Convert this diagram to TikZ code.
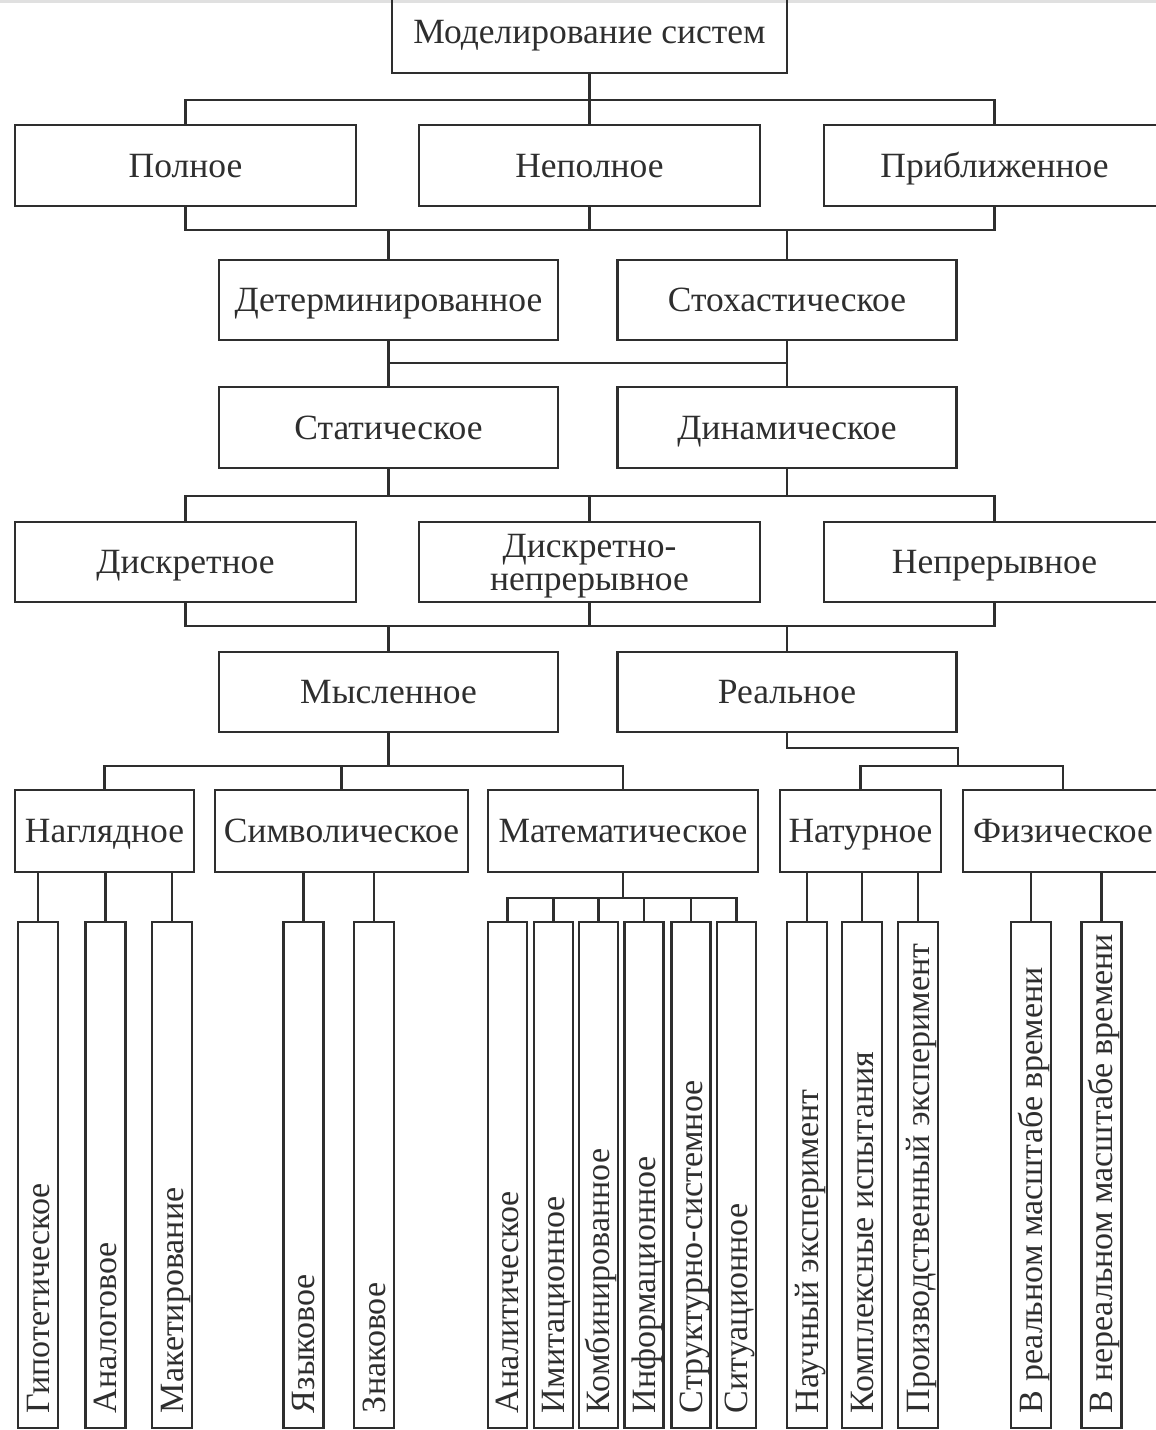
\documentclass[tikz,border=0pt]{standalone}
\usepackage{fontspec}
\setmainfont{Liberation Serif}
\usetikzlibrary{calc}
\definecolor{ink}{HTML}{2E2E2E}
\begin{document}
\begin{tikzpicture}[x=1pt,y=-1pt,
  line width=2.3pt, draw=ink,
  box/.style={draw=ink, rectangle, inner sep=0pt, text=ink,
    font=\fontsize{35.5}{33}\selectfont, text height=23.5pt, text depth=0pt, align=center},
  kid/.style={draw=ink, rectangle, inner sep=0pt, minimum height=506pt, minimum width=40pt},
  vlab/.style={rotate=90, anchor=west, inner sep=0pt, text=ink,
    font=\fontsize{34}{33}\selectfont, text height=22.5pt, text depth=0pt}]
\useasboundingbox (0,0) rectangle (1156,1430);
\clip (0,0) rectangle (1156,1430);
\fill[black!12] (0,0) rectangle (1156,3);

% level 0
\node[box, minimum width=395pt, minimum height=83pt] (T) at (589.5,31.5) {Моделирование систем};
% level 1
\node[box, minimum width=341pt, minimum height=81pt] (r2a) at (185.5,165.5) {Полное};
\node[box, minimum width=341pt, minimum height=81pt] (r2b) at (589.5,165.5) {Неполное};
\node[box, minimum width=341pt, minimum height=81pt] (r2c) at (994.5,165.5) {Приближенное};
% level 2
\node[box, minimum width=339pt, minimum height=80pt] (r3a) at (388.5,300) {Детерминированное};
\node[box, minimum width=339pt, minimum height=80pt] (r3b) at (787,300) {Стохастическое};
% level 3
\node[box, minimum width=339pt, minimum height=81pt] (r4a) at (388.5,427.5) {Статическое};
\node[box, minimum width=339pt, minimum height=81pt] (r4b) at (787,427.5) {Динамическое};
% level 4
\node[box, minimum width=341pt, minimum height=80pt] (r5a) at (185.5,562) {Дискретное};
\node[box, minimum width=341pt, minimum height=80pt, text height=56pt] (r5b) at (589.5,562) {Дискретно-\\непрерывное};
\node[box, minimum width=341pt, minimum height=80pt] (r5c) at (994.5,562) {Непрерывное};
% level 5
\node[box, minimum width=339pt, minimum height=80pt] (r6a) at (388.5,692) {Мысленное};
\node[box, minimum width=339pt, minimum height=80pt] (r6b) at (787,692) {Реальное};
% level 6
\node[box, minimum width=179pt, minimum height=82pt] (r7a) at (104.5,831) {Наглядное};
\node[box, minimum width=253pt, minimum height=82pt] (r7b) at (341.5,831) {Символическое};
\node[box, minimum width=270pt, minimum height=82pt] (r7c) at (623,831) {Математическое};
\node[box, minimum width=161pt, minimum height=82pt] (r7d) at (860.5,831) {Натурное};
\node[box, minimum width=200pt, minimum height=82pt] (r7e) at (1063,831) {Физическое};

% leaves
\node[kid] (ka1) at (38,1175) {};
\node[kid] (ka2) at (105.5,1175) {};
\node[kid] (ka3) at (172,1175) {};
\node[kid] (kb1) at (303.5,1175) {};
\node[kid] (kb2) at (374,1175) {};
\node[kid, minimum width=39pt] (kc1) at (507.5,1175) {};
\node[kid, minimum width=39pt] (kc2) at (553.5,1175) {};
\node[kid, minimum width=39pt] (kc3) at (598.5,1175) {};
\node[kid, minimum width=39pt] (kc4) at (644,1175) {};
\node[kid, minimum width=39pt] (kc5) at (691,1175) {};
\node[kid, minimum width=39pt] (kc6) at (736.5,1175) {};
\node[kid] (kd1) at (807,1175) {};
\node[kid] (kd2) at (862,1175) {};
\node[kid] (kd3) at (918,1175) {};
\node[kid] (ke1) at (1031,1175) {};
\node[kid] (ke2) at (1101.5,1175) {};

\node[vlab] (ta1) at ($(ka1.south)+(0,-15)$) {Гипотетическое};
\node[vlab] (ta2) at ($(ka2.south)+(0,-15)$) {Аналоговое};
\node[vlab] (ta3) at ($(ka3.south)+(0,-15)$) {Макетирование};
\node[vlab] (tb1) at ($(kb1.south)+(0,-15)$) {Языковое};
\node[vlab] (tb2) at ($(kb2.south)+(0,-15)$) {Знаковое};
\node[vlab] (tc1) at ($(kc1.south)+(0,-15)$) {Аналитическое};
\node[vlab] (tc2) at ($(kc2.south)+(0,-15)$) {Имитационное};
\node[vlab] (tc3) at ($(kc3.south)+(0,-15)$) {Комбинированное};
\node[vlab] (tc4) at ($(kc4.south)+(0,-15)$) {Информационное};
\node[vlab] (tc5) at ($(kc5.south)+(0,-15)$) {Структурно-системное};
\node[vlab] (tc6) at ($(kc6.south)+(0,-15)$) {Ситуационное};
\node[vlab] (td1) at ($(kd1.south)+(0,-15)$) {Научный эксперимент};
\node[vlab] (td2) at ($(kd2.south)+(0,-15)$) {Комплексные испытания};
\node[vlab] (td3) at ($(kd3.south)+(0,-15)$) {Производственный эксперимент};
\node[vlab] (te1) at ($(ke1.south)+(0,-15)$) {В реальном масштабе времени};
\node[vlab] (te2) at ($(ke2.south)+(0,-15)$) {В нереальном масштабе времени};

% bus coordinates
\coordinate (b1) at (0,100);
\coordinate (b2) at (0,230);
\coordinate (b3) at (0,363);
\coordinate (b4) at (0,496);
\coordinate (b5) at (0,626);
\coordinate (b6) at (0,766);
\coordinate (k1) at (958,748);
\coordinate (b7) at (0,898);

% connectors
\draw (T.south) -- (r2b.north);
\draw (r2a.north) -- (r2a.north |- b1) -- (r2c.north |- b1) -- (r2c.north);

\draw (r2a.south) -- (r2a.south |- b2) -- (r2c.south |- b2) -- (r2c.south);
\draw (r2b.south) -- (r2b.south |- b2);
\draw (r3a.north) -- (r3a.north |- b2);
\draw (r3b.north) -- (r3b.north |- b2);

\draw (r3a.south) -- (r4a.north);
\draw (r3b.south) -- (r4b.north);
\draw (r3a.south |- b3) -- (r3b.south |- b3);

\draw (r4a.south) -- (r4a.south |- b4);
\draw (r4b.south) -- (r4b.south |- b4);
\draw (r5a.north) -- (r5a.north |- b4) -- (r5c.north |- b4) -- (r5c.north);
\draw (r5b.north) -- (r5b.north |- b4);

\draw (r5a.south) -- (r5a.south |- b5) -- (r5c.south |- b5) -- (r5c.south);
\draw (r5b.south) -- (r5b.south |- b5);
\draw (r6a.north) -- (r6a.north |- b5);
\draw (r6b.north) -- (r6b.north |- b5);

\draw (r6a.south) -- (r6a.south |- b6);
\draw (r7a.north) -- (r7a.north |- b6) -- (r7c.north |- b6) -- (r7c.north);
\draw (r7b.north) -- (r7b.north |- b6);
\draw (r6b.south) |- (k1) -- (k1 |- b6);
\draw (r7d.north) -- (r7d.north |- b6) -- (r7e.north |- b6) -- (r7e.north);

\draw (ka1.north |- r7a.south) -- (ka1.north);
\draw (ka2.north |- r7a.south) -- (ka2.north);
\draw (ka3.north |- r7a.south) -- (ka3.north);
\draw (kb1.north |- r7b.south) -- (kb1.north);
\draw (kb2.north |- r7b.south) -- (kb2.north);

\draw (r7c.south) -- (r7c.south |- b7);
\draw (kc1.north) -- (kc1.north |- b7) -- (kc6.north |- b7) -- (kc6.north);
\draw (kc2.north) -- (kc2.north |- b7);
\draw (kc3.north) -- (kc3.north |- b7);
\draw (kc4.north) -- (kc4.north |- b7);
\draw (kc5.north) -- (kc5.north |- b7);

\draw (kd1.north |- r7d.south) -- (kd1.north);
\draw (kd2.north |- r7d.south) -- (kd2.north);
\draw (kd3.north |- r7d.south) -- (kd3.north);
\draw (ke1.north |- r7e.south) -- (ke1.north);
\draw (ke2.north |- r7e.south) -- (ke2.north);
\end{tikzpicture}
\end{document}
